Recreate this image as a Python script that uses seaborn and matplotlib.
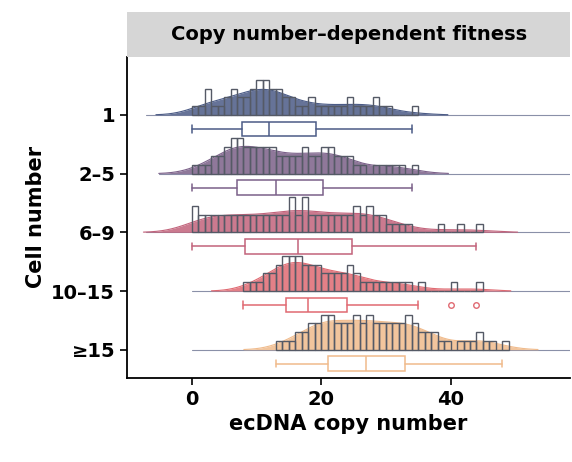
import numpy as np
import seaborn as sns
from matplotlib import pyplot as plt
from matplotlib.patches import Rectangle

sns.set_theme(style='ticks')
plt.rcParams['font.family'] = ['DejaVu Sans']
plt.rcParams['text.color'] = 'black'
plt.rcParams['axes.labelcolor'] = 'black'
plt.rcParams['xtick.color'] = 'black'
plt.rcParams['ytick.color'] = 'black'

groups = ['1', '2–5', '6–9', '10–15', '≥15']
colors = ['#4b5b86', '#7b6089', '#c2637b', '#e06a72', '#f0bb8c']
line_start = [-7, -5, -7, 0, 0]

# counts per integer bin, starting at bin 'first'
first = [0, 0, 0, 8, 13]
counts = [
    [1,1,3,1,1,2,3,2,2,3,4,4,3,3,2,2,1,1,2,1,1,1,1,1,2,1,1,1,2,1,1,0,0,0,1],
    [1,1,1,2,2,3,4,4,3,3,3,3,3,2,2,2,2,3,2,2,3,3,2,2,2,1,1,0,1,1,1,1,1,0,1],
    [3,2,2,2,2,2,2,2,2,2,2,2,2,2,2,4,2,4,2,2,2,2,2,2,2,3,2,3,2,2,1,1,1,1,0,0,0,0,1,0,0,1,0,0,1],
    [1,1,1,2,2,3,4,4,4,3,3,3,2,2,2,2,3,2,1,1,1,1,1,1,1,1,0,1,0,0,0,0,1,0,0,0,1],
    [1,1,1,2,2,3,3,4,4,3,3,3,4,3,4,3,3,3,3,3,4,3,2,2,2,1,1,0,1,1,1,2,1,1,0,1],
]

unit = 0.15   # row height per count
fig = plt.figure(figsize=(5.72, 4.62), dpi=100)
ax = fig.add_axes([0.222, 0.182, 0.775, 0.695])
grid = np.linspace(-10, 60, 800)

for i, (g, c) in enumerate(zip(groups, colors)):
    y0 = -i
    cnt = np.array(counts[i])
    bins = np.arange(first[i], first[i] + len(cnt))
    data = np.repeat(bins + 0.5, cnt)
    # gaussian kde of the binned data
    bw = 1.06 * data.std() * len(data) ** (-0.2) * 0.7
    dens = np.exp(-0.5 * ((grid[:, None] - data[None, :]) / bw) ** 2).sum(1)
    dens = dens / (bw * np.sqrt(2 * np.pi))
    keep = dens * unit > 0.004
    ax.plot([line_start[i], 60], [y0, y0], color='#8a90a8', lw=0.8, zorder=1)
    ax.fill_between(grid, y0, y0 + dens * unit, where=keep,
                    color=c, alpha=0.85, lw=0, zorder=2)
    ax.plot(grid[keep], y0 + dens[keep] * unit, color=c, lw=0.8, zorder=2)
    ax.bar(bins, cnt * unit, width=1, bottom=y0, align='edge', fill=False,
           edgecolor='#555a66', lw=1.0, zorder=3)
    ax.boxplot(data - 0.5, positions=[y0 - 0.24], widths=0.25, vert=False,
               patch_artist=True, manage_ticks=False,
               boxprops=dict(facecolor='white', edgecolor=c, lw=1.1),
               whiskerprops=dict(color=c, lw=1.1), capprops=dict(color=c, lw=1.1),
               medianprops=dict(color=c, lw=1.1),
               flierprops=dict(marker='o', markerfacecolor='none', markeredgecolor=c, markersize=4))

ax.set_xlim(-10, 58.5)
ax.set_ylim(-4.48, 0.99)
ax.set_yticks([-i for i in range(len(groups))])
ax.set_yticklabels(groups, fontsize=14, fontweight='bold')
ax.set_xticks([0, 20, 40])
ax.set_xticklabels(['0', '20', '40'], fontsize=14, fontweight='bold')
ax.set_xlabel('ecDNA copy number', fontsize=15, fontweight='bold')
ax.set_ylabel('Cell number', fontsize=15, fontweight='bold')
ax.tick_params(length=5, width=1.2, color='black')
for s in ['left', 'bottom']:
    ax.spines[s].set_color('black')
    ax.spines[s].set_linewidth(1.3)
sns.despine(ax=ax)

# title strip
strip = fig.add_axes([0.222, 0.877, 0.775, 0.097])
strip.add_patch(Rectangle((0, 0), 1, 1, color='#d6d6d6', transform=strip.transAxes))
strip.text(0.5, 0.5, 'Copy number–dependent fitness', ha='center', va='center',
           fontsize=14, fontweight='bold')
strip.axis('off')

fig.savefig('out.png', dpi=100)
